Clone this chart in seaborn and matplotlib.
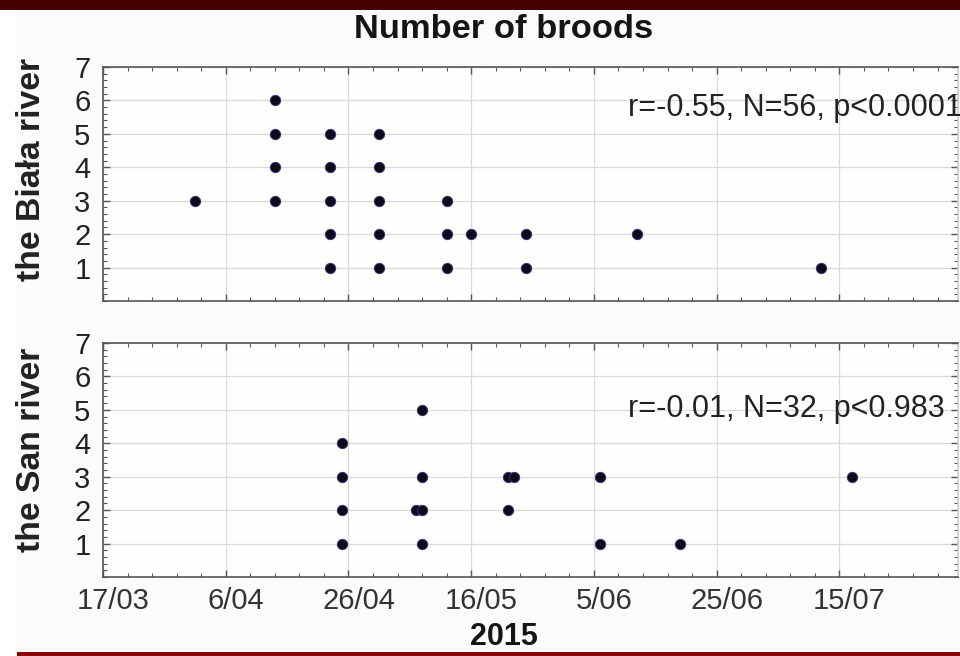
import matplotlib
matplotlib.use("Agg")
import matplotlib.pyplot as plt
import matplotlib.dates as mdates
import matplotlib.transforms as mtransforms
from matplotlib.patches import Rectangle
from matplotlib.ticker import FuncFormatter, MultipleLocator
import numpy as np
import pandas as pd
import seaborn as sns

# Brood counts per observation date, the Biała river
biala_dates = ["2015-04-01",
               "2015-04-14", "2015-04-14", "2015-04-14", "2015-04-14",
               "2015-04-23", "2015-04-23", "2015-04-23", "2015-04-23", "2015-04-23",
               "2015-05-01", "2015-05-01", "2015-05-01", "2015-05-01", "2015-05-01",
               "2015-05-12", "2015-05-12", "2015-05-12",
               "2015-05-16",
               "2015-05-25", "2015-05-25",
               "2015-06-12",
               "2015-07-12"]
biala_broods = [3,
                3, 4, 5, 6,
                1, 2, 3, 4, 5,
                1, 2, 3, 4, 5,
                1, 2, 3,
                2,
                1, 2,
                2,
                1]

# Brood counts per observation date, the San river
san_dates = ["2015-04-25", "2015-04-25", "2015-04-25", "2015-04-25",
             "2015-05-07",
             "2015-05-08", "2015-05-08", "2015-05-08", "2015-05-08",
             "2015-05-22", "2015-05-22",
             "2015-05-23",
             "2015-06-06", "2015-06-06",
             "2015-06-19",
             "2015-07-17"]
san_broods = [1, 2, 3, 4,
              2,
              1, 2, 3, 5,
              2, 3,
              3,
              1, 3,
              1,
              3]

panel_labels = ["the Biała river", "the San river"]
stats_labels = ["r=-0.55, N=56, p<0.0001", "r=-0.01, N=32, p<0.983"]
title_text = "Number of broods"
xlabel_text = "2015"

x_start = pd.Timestamp("2015-03-17")
x_end = pd.Timestamp("2015-08-03 08:00")
major_ticks = pd.date_range(x_start, periods=7, freq="20D")
minor_ticks = pd.date_range(x_start, x_end, freq="4D")

sns.set_style("ticks")
plt.rcParams["font.family"] = ["Liberation Sans", "DejaVu Sans"]

W, H = 960, 656
fig = plt.figure(figsize=(W / 100, H / 100), dpi=100)
fig.patch.set_facecolor("#fcfbf9")

# page frame decorations
fig.add_artist(Rectangle((0, 0), 17 / W, 1, transform=fig.transFigure,
                         facecolor="white", edgecolor="none", zorder=0))
fig.add_artist(Rectangle((0, 1 - 10 / H), 1, 10 / H, transform=fig.transFigure,
                         facecolor="#470000", edgecolor="none", zorder=5))
fig.add_artist(Rectangle((17 / W, 0), 1 - 17 / W, 4.5 / H, transform=fig.transFigure,
                         facecolor="#8a0000", edgecolor="none", zorder=5))

left = 103 / W
width = 855 / W
ax_h = 234 / H
ax_top = fig.add_axes([left, 1 - 301 / H, width, ax_h])
ax_bot = fig.add_axes([left, 1 - 577 / H, width, ax_h])

frames = [
    pd.DataFrame({"date": pd.to_datetime(biala_dates), "broods": biala_broods}),
    pd.DataFrame({"date": pd.to_datetime(san_dates), "broods": san_broods}),
]
stats_y = [5.76, 5.03]


def day_month(x, pos):
    d = mdates.num2date(x)
    return f"{d.day}/{d.month:02d}"


for i, (ax, df) in enumerate(zip([ax_top, ax_bot], frames)):
    ax.set_facecolor("#fefefd")
    sns.scatterplot(data=df, x="date", y="broods", ax=ax, s=55,
                    color="#0c0c18", edgecolor="#3b2f80", linewidth=0.7,
                    zorder=3, legend=False)
    ax.set_xlim(x_start, x_end)
    ax.set_ylim(0, 7)
    ax.set_xticks(major_ticks)
    ax.set_xticks(minor_ticks, minor=True)
    ax.xaxis.set_major_formatter(FuncFormatter(day_month))
    ax.set_yticks(range(1, 8))
    ax.yaxis.set_minor_locator(MultipleLocator(0.2))
    ax.grid(True, which="major", color="#d9d9d9", linewidth=0.9, zorder=0)
    ax.tick_params(which="both", direction="in", top=True, right=True,
                   color="#555555")
    ax.tick_params(which="major", length=5, width=1.0)
    ax.tick_params(which="minor", length=3, width=0.8)
    ax.tick_params(axis="y", which="major", labelsize=21, pad=9,
                   labelcolor="#222222")
    ax.tick_params(axis="x", which="major", labelsize=21, pad=7,
                   labelcolor="#333333")
    for side, sp in ax.spines.items():
        sp.set_color("#555555")
        sp.set_linewidth(1.2)
    ax.spines["right"].set_color("#cccccc")
    ax.set_xlabel("")
    ax.set_ylabel("")
    ax.text(0.614, stats_y[i], stats_labels[i],
            transform=ax.get_yaxis_transform(),
            fontsize=22, color="#222222", ha="left", va="center")

ax_top.tick_params(axis="x", labelbottom=False)

# date labels sit slightly right of their grid lines
shift = mtransforms.ScaledTranslation(10 / 100, 0, fig.dpi_scale_trans)
for lbl in ax_bot.get_xticklabels():
    lbl.set_transform(lbl.get_transform() + shift)

fig.text(32 / W, 1 - 169 / H, panel_labels[0], rotation=90, fontsize=24.3,
         fontweight="bold", color="#222222", ha="center", va="center")
fig.text(32 / W, 1 - 450 / H, panel_labels[1], rotation=90, fontsize=24.3,
         fontweight="bold", color="#222222", ha="center", va="center")
fig.text(504 / W, 1 - 29 / H, title_text, fontsize=24.8, fontweight="bold",
         color="#151515", ha="center", va="center")
fig.text(504 / W, 1 - 637 / H, xlabel_text, fontsize=22, fontweight="bold",
         color="#151515", ha="center", va="center")

fig.savefig("out.png", dpi=100, facecolor=fig.get_facecolor())
